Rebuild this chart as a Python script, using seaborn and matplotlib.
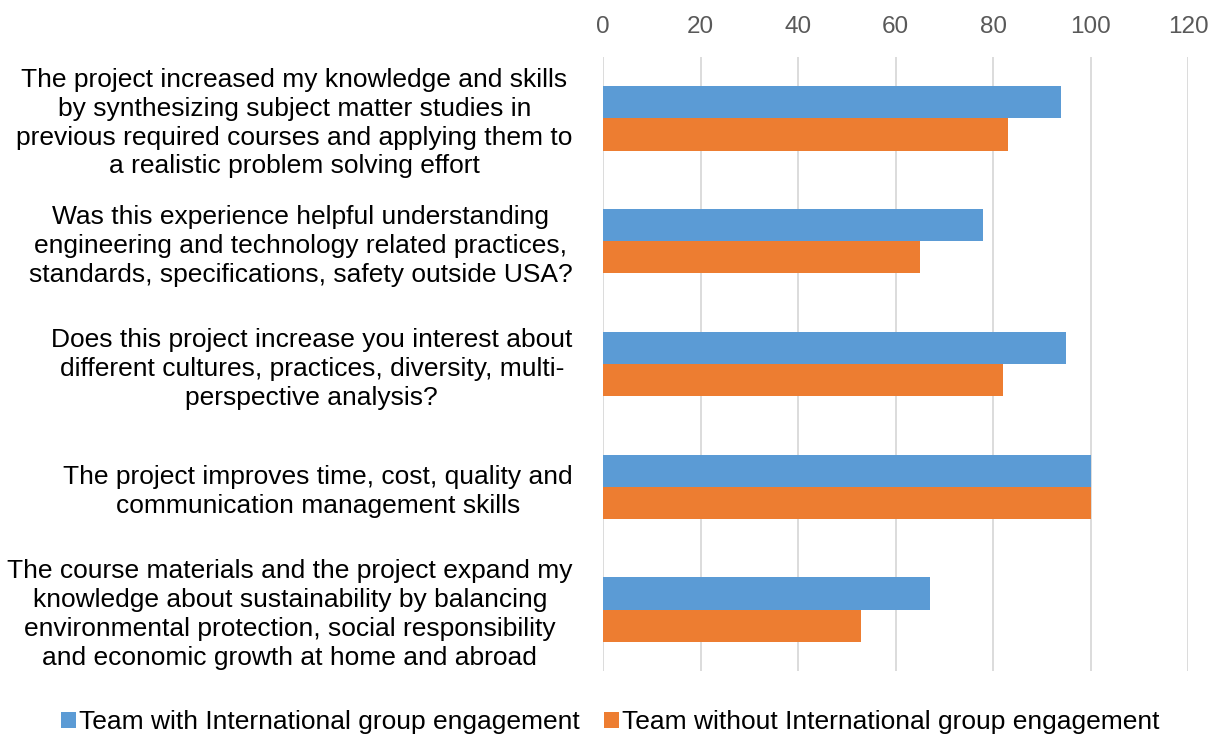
import matplotlib
matplotlib.use("Agg")
import matplotlib.pyplot as plt
import seaborn as sns
import pandas as pd

questions = [
    "The project increased my knowledge and skills\nby synthesizing subject matter studies in\nprevious required courses and applying them to\na realistic problem solving effort",
    "Was this experience helpful understanding\nengineering and technology related practices,\nstandards, specifications, safety outside USA?",
    "Does this project increase you interest about\ndifferent cultures, practices, diversity, multi-\nperspective analysis?",
    "The project improves time, cost, quality and\ncommunication management skills",
    "The course materials and the project expand my\nknowledge about sustainability by balancing\nenvironmental protection, social responsibility\nand economic growth at home and abroad",
]
series_names = [
    "Team with International group engagement",
    "Team without International group engagement",
]
with_intl = [94, 78, 95, 100, 67]
without_intl = [83, 65, 82, 100, 53]
x_ticks = [0, 20, 40, 60, 80, 100, 120]

df = pd.DataFrame({
    "question": questions * 2,
    "group": [series_names[0]] * len(questions) + [series_names[1]] * len(questions),
    "value": with_intl + without_intl,
})

sns.set_theme(style="white")
plt.rcParams["font.family"] = ["Liberation Sans", "DejaVu Sans"]
plt.rcParams["text.color"] = "black"

fig = plt.figure(figsize=(12.21, 7.37), dpi=100)
ax = fig.add_axes([0.4939, 0.0896, 0.973 - 0.4939, 0.9227 - 0.0896])

sns.barplot(
    data=df, x="value", y="question", hue="group", orient="h",
    palette=["#5B9BD5", "#ED7D31"], saturation=1, width=0.525,
    linewidth=0, ax=ax, legend=True,
)

ax.set_xlim(0, 120)
ax.set_xticks(x_ticks)
ax.xaxis.tick_top()
ax.tick_params(axis="x", length=0, labelsize=17.5, labelcolor="#595959", pad=14)
ax.tick_params(axis="y", length=0, labelsize=19, labelcolor="black", pad=22)
for lbl in ax.get_yticklabels():
    lbl.set_multialignment("center")
    lbl.set_linespacing(1.25)
ax.set_xlabel("")
ax.set_ylabel("")
ax.grid(axis="x", color="#D9D9D9", linewidth=1.3)
ax.set_axisbelow(True)
for s in ax.spines.values():
    s.set_visible(False)

handles, labels = ax.get_legend_handles_labels()
ax.legend_.remove()
fig.legend(
    handles, labels, loc="center", bbox_to_anchor=(0.5, 0.02), ncol=2,
    frameon=False, fontsize=19, handlelength=0.55, handleheight=0.55,
    handletextpad=0.15, columnspacing=0.9, labelcolor="black",
)

fig.savefig("out.png", dpi=100)
